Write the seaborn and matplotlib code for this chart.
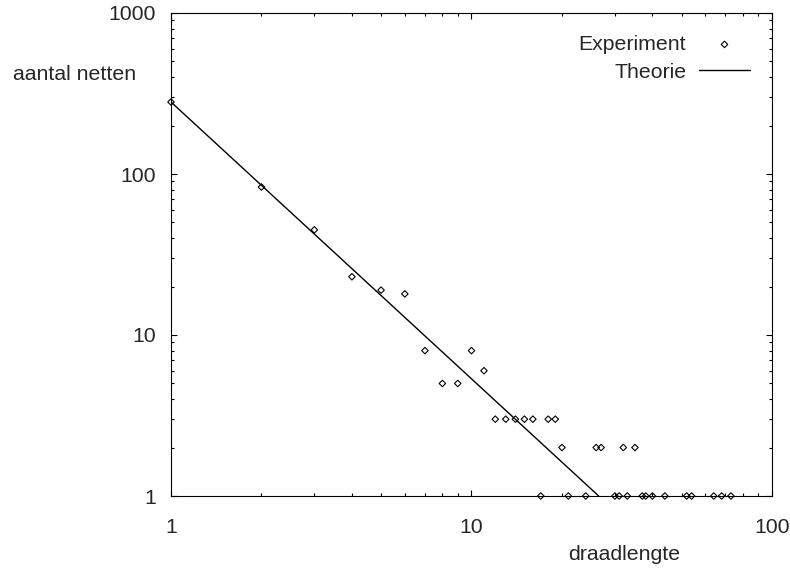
import matplotlib
matplotlib.use("Agg")
import matplotlib.pyplot as plt
import matplotlib.ticker as mticker
import seaborn as sns
import pandas as pd

# --- data ---
x_exp = [1, 2, 3, 4, 5, 6, 7, 8, 9, 10, 11, 12, 13, 14, 15, 16, 17, 18, 19, 20,
         21, 24, 26, 27, 30, 31, 32, 33, 35, 37, 38, 40, 44, 52, 54, 64, 68, 73]
y_exp = [280, 83, 45, 23, 19, 18, 8, 5, 5, 8, 6, 3, 3, 3, 3, 3, 1, 3, 3, 2,
         1, 1, 2, 2, 1, 1, 2, 1, 2, 1, 1, 1, 1, 1, 1, 1, 1, 1]
x_theory = [1, 26.5]
y_theory = [280, 1]

x_ticks = [1, 10, 100]
x_tick_labels = ["1", "10", "100"]
y_ticks = [1, 10, 100, 1000]
y_tick_labels = ["1", "10", "100", "1000"]

exp_df = pd.DataFrame({"draadlengte": x_exp, "aantal": y_exp})
th_df = pd.DataFrame({"draadlengte": x_theory, "aantal": y_theory})

sns.set_style("ticks")
plt.rcParams["font.family"] = ["Liberation Sans", "DejaVu Sans"]
FS = 15.3

fig = plt.figure(figsize=(7.9, 5.69), dpi=100)
ax = fig.add_axes([171 / 790, 1 - 496 / 569, 601 / 790, 483 / 569])
ax.set_xscale("log")
ax.set_yscale("log")

sns.scatterplot(data=exp_df, x="draadlengte", y="aantal", ax=ax, marker="D",
                s=11, fc="none", ec="black", linewidth=0.8, label="Experiment",
                zorder=3, clip_on=False)
sns.lineplot(data=th_df, x="draadlengte", y="aantal", ax=ax, color="black",
             linewidth=1.0, label="Theorie")

ax.set_xlim(1, 100)
ax.set_ylim(1, 1000)

ax.xaxis.set_major_locator(mticker.FixedLocator(x_ticks))
ax.xaxis.set_major_formatter(mticker.FixedFormatter(x_tick_labels))
ax.yaxis.set_major_locator(mticker.FixedLocator(y_ticks))
ax.yaxis.set_major_formatter(mticker.FixedFormatter(y_tick_labels))
ax.xaxis.set_minor_locator(mticker.LogLocator(base=10, subs=range(2, 10)))
ax.yaxis.set_minor_locator(mticker.LogLocator(base=10, subs=range(2, 10)))
ax.xaxis.set_minor_formatter(mticker.NullFormatter())
ax.yaxis.set_minor_formatter(mticker.NullFormatter())

ax.tick_params(which="both", direction="in", top=True, right=True,
               color="black", width=0.8)
ax.tick_params(which="major", length=4.5, labelsize=FS)
ax.tick_params(axis="y", which="major", pad=11)
ax.tick_params(axis="x", which="major", pad=16)
ax.tick_params(which="minor", length=2.3)
for sp in ax.spines.values():
    sp.set_visible(True)
    sp.set_linewidth(0.8)
    sp.set_color("black")

ax.set_xlabel("draadlengte", fontsize=FS)
ax.xaxis.label.set_va("center")
ax.xaxis.set_label_coords(0.754, -0.122)
ax.set_ylabel("aantal netten", fontsize=FS, rotation=0, ha="center", va="center")
ax.yaxis.set_label_coords(-0.16, 0.872)

ax.legend(loc="upper right", bbox_to_anchor=(750 / 790, 1 - 35 / 569),
          bbox_transform=fig.transFigure, frameon=False, markerfirst=False,
          fontsize=FS, borderpad=0, borderaxespad=0, handlelength=2.4,
          handletextpad=0.6, labelspacing=0.4)

fig.savefig("out.png", dpi=100)
